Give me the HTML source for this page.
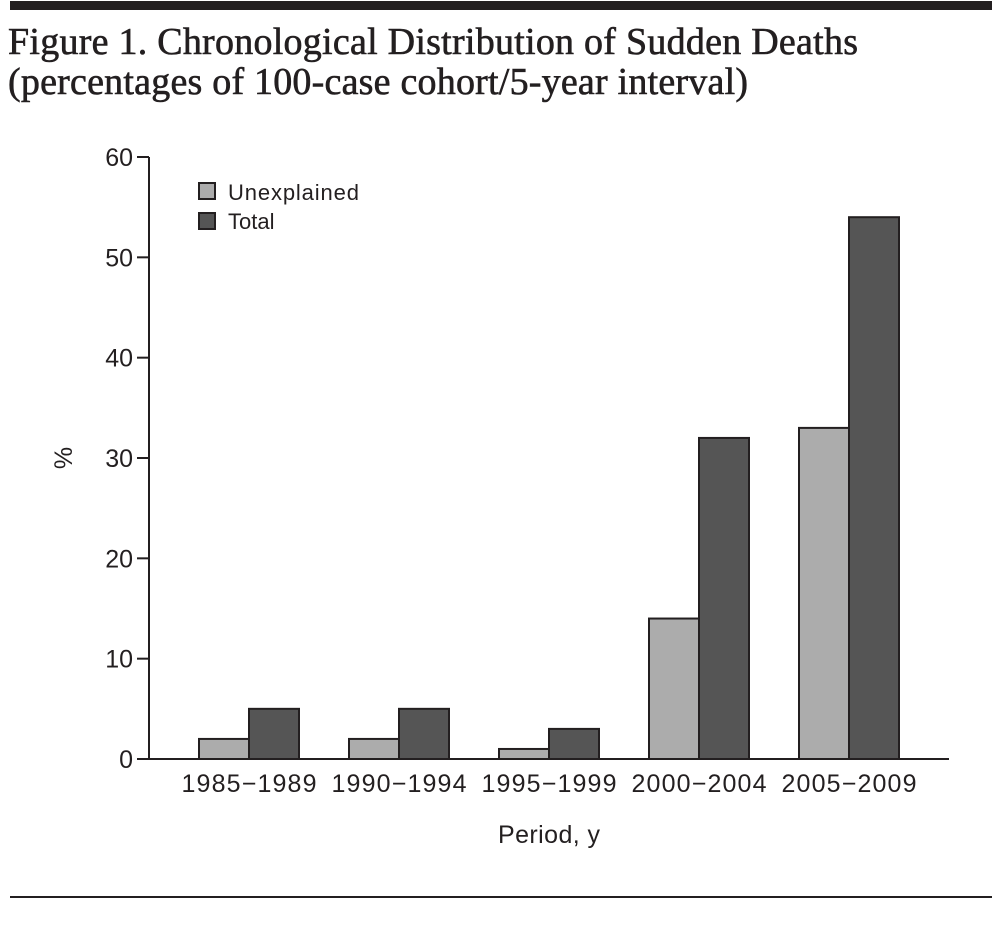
<!DOCTYPE html>
<html><head><meta charset="utf-8"><style>
body{margin:0;background:#fff;}
svg{display:block;}
</style></head><body>
<svg width="1002" height="930" xmlns="http://www.w3.org/2000/svg">
<rect x="10" y="1" width="982" height="9" fill="#231f20"/>
<text x="8" y="54" font-family="Liberation Serif, serif" font-size="38" fill="#231f20" stroke="#231f20" stroke-width="0.6" textLength="850">Figure 1. Chronological Distribution of Sudden Deaths</text>
<text x="8" y="94" font-family="Liberation Serif, serif" font-size="38" fill="#231f20" stroke="#231f20" stroke-width="0.6" textLength="740">(percentages of 100-case cohort/5-year interval)</text>
<line x1="10" y1="897" x2="992" y2="897" stroke="#231f20" stroke-width="2"/>
<g id="chart"></g>
</svg>
<script>
const categories = ["1985\u22121989","1990\u22121994","1995\u22121999","2000\u22122004","2005\u22122009"];
const unexplained = [2, 2, 1, 14, 33];
const total = [5, 5, 3, 32, 54];
const yTicks = [0, 10, 20, 30, 40, 50, 60];

const NS = "http://www.w3.org/2000/svg";
const g = document.getElementById("chart");
const x0 = 149, y0 = 759, yTop = 157, yMax = 60, groupW = 150, barW = 50, firstX = 199;
const yS = v => y0 - (v / yMax) * (y0 - yTop);
const xS = i => firstX + i * groupW;
function mk(tag, attrs, text){
  const e = document.createElementNS(NS, tag);
  for (const k in attrs) e.setAttribute(k, attrs[k]);
  if (text !== undefined) e.textContent = text;
  g.appendChild(e);
  return e;
}
const font = "Liberation Sans, sans-serif";
let e;
categories.forEach((c, i) => {
  e = mk("rect", {x: xS(i), y: yS(unexplained[i]), width: barW, height: y0 - yS(unexplained[i]), fill: "#acacac", stroke: "#231f20", "stroke-width": 2});
  
  
  e = mk("rect", {x: xS(i) + barW, y: yS(total[i]), width: barW, height: y0 - yS(total[i]), fill: "#555555", stroke: "#231f20", "stroke-width": 2});
  
  
  e = mk("text", {x: xS(i) + barW, y: 792, "text-anchor": "middle", "font-family": font, "font-size": 25, fill: "#231f20", textLength: 135}, c);
  
  
});
e = mk("line", {x1: x0, y1: yTop, x2: x0, y2: y0 + 1, stroke: "#231f20", "stroke-width": 2});


e = mk("line", {x1: x0, y1: y0, x2: 949, y2: y0, stroke: "#231f20", "stroke-width": 2});


yTicks.forEach(t => {
  e = mk("line", {x1: 137, y1: yS(t), x2: x0, y2: yS(t), stroke: "#231f20", "stroke-width": 2});
  
  
  e = mk("text", {x: 133, y: yS(t) + 9, "text-anchor": "end", "font-family": font, "font-size": 25, fill: "#231f20"}, String(t));
  
  
});
e = mk("text", {x: 0, y: 0, transform: "translate(72,458) rotate(-90)", "text-anchor": "middle", "font-family": font, "font-size": 25, fill: "#231f20"}, "%");


e = mk("text", {x: 549, y: 843, "text-anchor": "middle", "font-family": font, "font-size": 25, fill: "#231f20", textLength: 102}, "Period, y");


e = mk("rect", {x: 199, y: 183, width: 16, height: 16, fill: "#acacac", stroke: "#231f20", "stroke-width": 2});


e = mk("text", {x: 228, y: 200, "font-family": font, "font-size": 22, fill: "#231f20", textLength: 131}, "Unexplained");


e = mk("rect", {x: 199, y: 213, width: 16, height: 16, fill: "#555555", stroke: "#231f20", "stroke-width": 2});


e = mk("text", {x: 228, y: 229, "font-family": font, "font-size": 22, fill: "#231f20"}, "Total");


</script>
</body></html>
